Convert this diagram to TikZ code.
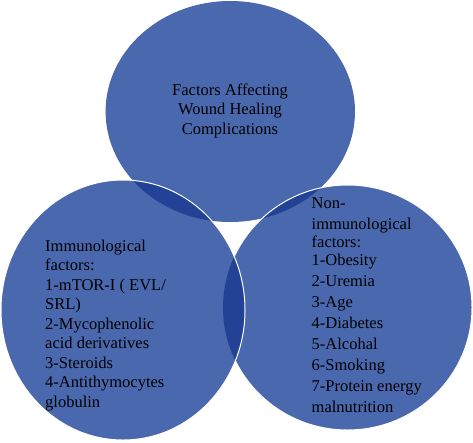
\documentclass[tikz,border=0pt]{standalone}
\usepackage{fontspec}
\setmainfont{Liberation Serif}
\definecolor{vfill}{RGB}{74,104,174}
\definecolor{vdark}{RGB}{35,66,150}
\begin{document}
\begin{tikzpicture}[x=1pt,y=-1pt,
  vtext/.style={inner sep=0pt, text=black},
  wline/.style={draw=white, line width=1pt}]
\useasboundingbox (0,0) rectangle (473,442);
% base fills
\fill[vfill] (230.3,111.5) ellipse [x radius=124.7pt, y radius=110.5pt];
\fill[vfill] (347.5,307.5) ellipse [x radius=124.5pt, y radius=122.5pt];
\fill[vfill] (123,310) ellipse [x radius=122pt, y radius=130pt];
% overlaps
\begin{scope}
  \clip (230.3,111.5) ellipse [x radius=124.7pt, y radius=110.5pt];
  \fill[vdark] (123,310) ellipse [x radius=122pt, y radius=130pt];
  \fill[vdark] (347.5,307.5) ellipse [x radius=124.5pt, y radius=122.5pt];
\end{scope}
\begin{scope}
  \clip (123,310) ellipse [x radius=122pt, y radius=130pt];
  \fill[vdark] (347.5,307.5) ellipse [x radius=124.5pt, y radius=122.5pt];
\end{scope}
% white outlines
\begin{scope}[even odd rule]
  \clip (-10,-10) rectangle (483,452) (123,310) ellipse [x radius=122pt, y radius=130pt];
  \draw[wline] (347.5,307.5) ellipse [x radius=124.5pt, y radius=122.5pt];
\end{scope}
\draw[wline] (123,310) ellipse [x radius=122pt, y radius=130pt];
% texts
\node[vtext, align=center, font=\fontsize{16.5}{19.5}\selectfont] (toptext) at (230,110.5)
  {Factors Affecting\\Wound Healing\\Complications};
\node[vtext, align=left, anchor=north west, font=\fontsize{16.5}{19.5}\selectfont] (lefttext) at (45,239.7)
  {Immunological\\factors:\\1-mTOR-I ( EVL/\\SRL)\\2-Mycophenolic\\acid derivatives\\3-Steroids\\4-Antithymocytes\\globulin};
\node[vtext, align=left, anchor=north west, font=\fontsize{16.5}{21}\selectfont] (righttext) at (311.5,197.1)
  {Non-\\immunological\\[-3pt]factors:\\[-3pt]1-Obesity\\2-Uremia\\3-Age\\4-Diabetes\\5-Alcohal\\6-Smoking\\7-Protein energy\\malnutrition};
\end{tikzpicture}
\end{document}
